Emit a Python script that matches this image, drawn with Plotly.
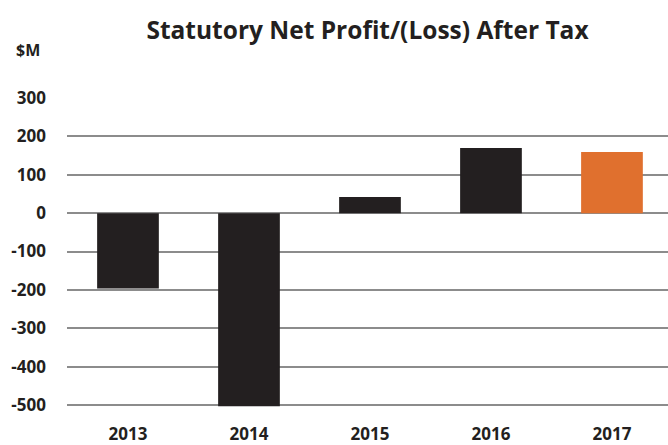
import plotly.graph_objects as go

years = ["2013", "2014", "2015", "2016", "2017"]
profit = [-196, -503, 42, 170, 159]
bar_colors = ["#231f20", "#231f20", "#231f20", "#231f20", "#e0702e"]
y_ticks = [300, 200, 100, 0, -100, -200, -300, -400, -500]

fig = go.Figure(go.Bar(
    x=years, y=profit, marker=dict(color=bar_colors, line=dict(width=0)),
    hoverinfo="skip",
))

font_family = "Open Sans"
fig.update_layout(
    width=668, height=445,
    margin=dict(l=67, r=0, t=98, b=38, autoexpand=False),
    paper_bgcolor="white", plot_bgcolor="white",
    bargap=0.49,
    showlegend=False,
    title=dict(text="<b>Statutory Net Profit/(Loss) After Tax</b>",
               x=0.5, xref="paper", xanchor="center",
               y=1 - 30/445, yanchor="middle", yref="container",
               font=dict(family=font_family, size=24.5, color="#231f20"),
               automargin=False),
    xaxis=dict(type="category", range=[-0.504, 4.463], automargin=False,
               tickfont=dict(family=font_family, size=17, color="#231f20", weight="bold"),
               showgrid=False, showline=False, ticks="", ticklabelstandoff=15),
    yaxis=dict(range=[-505, 300], tickvals=y_ticks, ticktext=[str(v) for v in y_ticks],
               automargin=False,
               tickfont=dict(family=font_family, size=17, color="#231f20", weight="bold"),
               showgrid=True, gridcolor="#8c8c8c", gridwidth=2,
               zeroline=True, zerolinecolor="#8c8c8c", zerolinewidth=2,
               showline=False, ticks="", ticklabelstandoff=20),
)
fig.add_annotation(text="<b>$M</b>", xref="paper", yref="paper",
                   x=(14 - 67) / 601, y=1 + (98 - 50) / 309, xanchor="left", yanchor="middle",
                   showarrow=False,
                   font=dict(family=font_family, size=16, color="#231f20"))

fig.write_html("out.html", config={"displayModeBar": False},
               post_script="document.body.style.margin='0';document.body.style.overflow='hidden';")
